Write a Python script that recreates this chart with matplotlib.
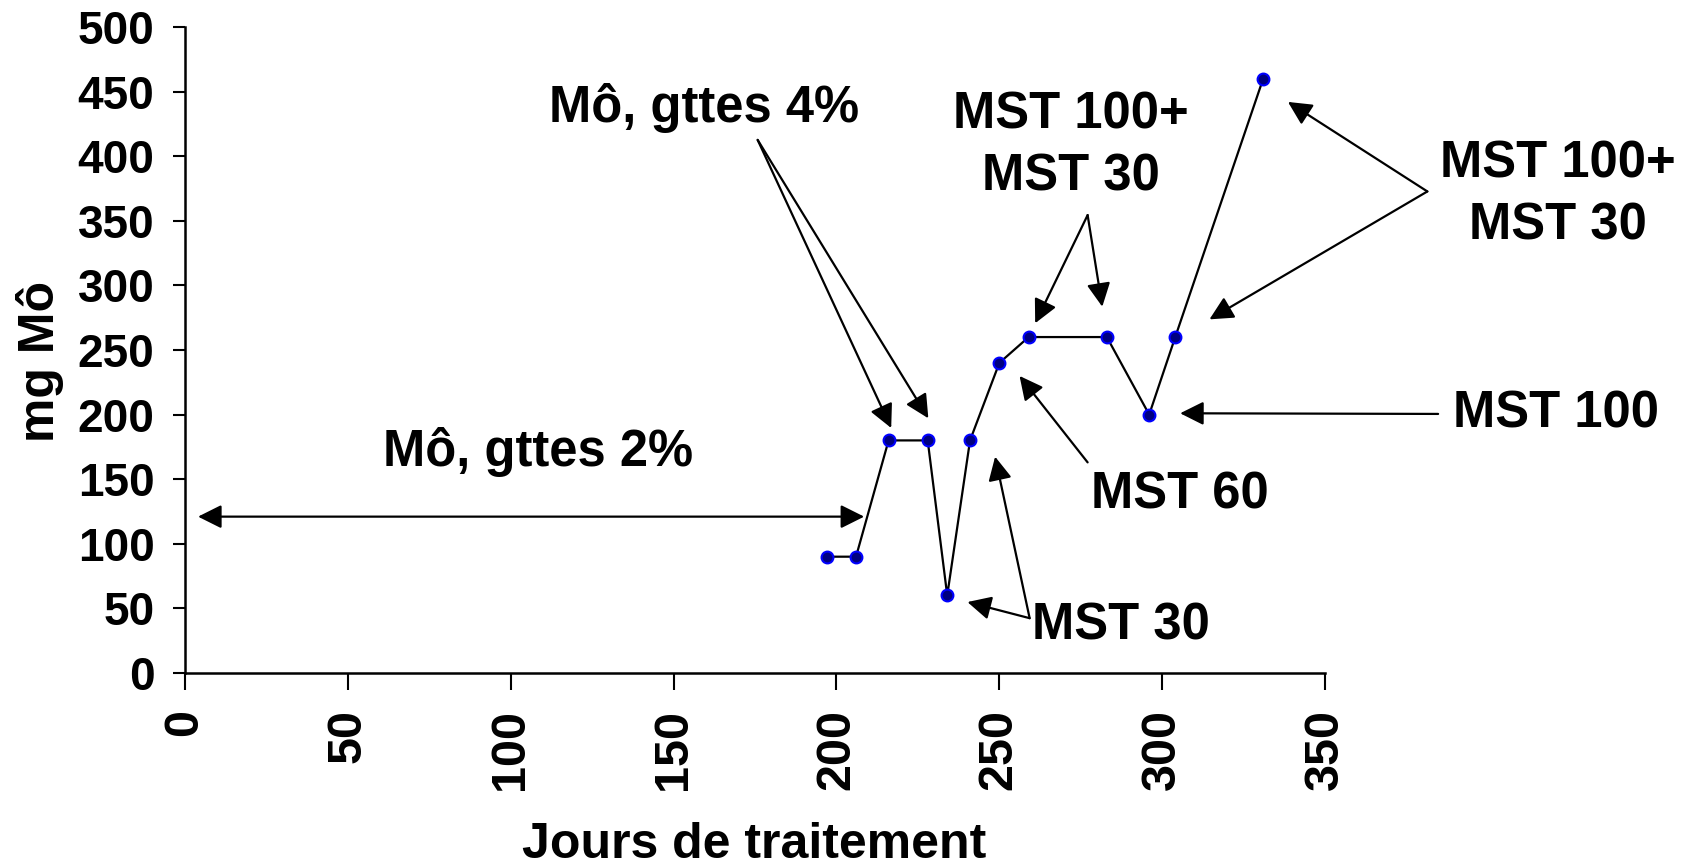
import matplotlib
matplotlib.use("Agg")
import matplotlib.pyplot as plt
import numpy as np

plt.rcParams['font.family'] = ['Liberation Sans', 'DejaVu Sans']
plt.rcParams['font.weight'] = 'bold'

# -------------------------------
# data
# -------------------------------
days = [197, 206, 216, 228, 234, 241, 250, 259, 283, 296, 304, 331]
dose_mg = [90, 90, 180, 180, 60, 180, 240, 260, 260, 200, 260, 460]

x_ticks = [0, 50, 100, 150, 200, 250, 300, 350]
y_ticks = [0, 50, 100, 150, 200, 250, 300, 350, 400, 450, 500]

# label text, label position, arrow start, arrow tips
labels = [
    ("Mô, gttes 4%", (159.5, 437), (175.8, 412.6), [(216.8, 189.6), (228.2, 197.1)]),
    ("MST 100+\nMST 30", (272, 408), (277.1, 354.4), [(261.0, 270.7), (281.6, 283.5)]),
    ("MST 100+\nMST 30", (421.6, 370), (381.4, 372.7), [(338.6, 442.0), (314.5, 273.7)]),
    ("MST 100", (421, 200.5), (384.7, 200.5), [(305.5, 201.0)]),
    ("MST 60", (305.3, 138), (277.1, 163.0), [(256.2, 229.9)]),
    ("MST 30", (287.2, 36.6), (259.3, 42.4), [(240.2, 54.9), (248.7, 167.4)]),
]
span_label = ("Mô, gttes 2%", (108.5, 171))
span_ends = [4, 208.5]
span_y = 121

fig = plt.figure(figsize=(16.85, 8.68), dpi=100)
ax = fig.add_axes([0.1098, 0.2247, 0.6766, 0.7442])

ax.plot(days, dose_mg, color='black', lw=1.6, marker='o', markersize=8.5,
        markerfacecolor='#000080', markeredgecolor='#0000ff', markeredgewidth=1.5,
        zorder=3)

ax.set_xlim(0, 350)
ax.set_ylim(0, 500)
ax.set_xticks(x_ticks)
ax.set_yticks(y_ticks)
ax.set_xticklabels([str(t) for t in x_ticks], rotation=90, fontsize=35,
                   fontweight='bold')
ax.set_yticklabels([str(t) for t in y_ticks], fontsize=33, fontweight='bold')
ax.tick_params(axis='x', direction='out', length=12, width=1.5, pad=14)
ax.tick_params(axis='y', direction='out', length=9, width=1.5, pad=13)

for side in ['top', 'right']:
    ax.spines[side].set_visible(False)
for side in ['left', 'bottom']:
    ax.spines[side].set_linewidth(1.8)

arrow = dict(arrowstyle='-|>', mutation_scale=36, lw=1.6, color='black',
             shrinkA=0, shrinkB=0)

# -------------------------------
# annotations
# -------------------------------
for text, pos, start, tips in labels:
    ax.text(pos[0], pos[1], text, fontsize=36.5, fontweight='bold',
            ha='center', va='center', linespacing=1.36, clip_on=False)
    for tip in tips:
        ax.annotate("", xy=tip, xytext=start, arrowprops=arrow,
                    annotation_clip=False)

ax.text(span_label[1][0], span_label[1][1], span_label[0], fontsize=36.5,
        fontweight='bold', ha='center', va='center')
ax.annotate("", xy=(span_ends[1], span_y), xytext=(span_ends[0], span_y),
            arrowprops=dict(arrow, arrowstyle='<|-|>'), annotation_clip=False)

# axis titles
fig.text(754 / 1685, 1 - 858 / 868, "Jours de traitement", fontsize=36,
         fontweight='bold', ha='center', va='baseline')
fig.text(40 / 1685, 1 - 361 / 868, "mg Mô", fontsize=36, fontweight='bold',
         ha='center', va='center', rotation=90)

fig.savefig("out.png", dpi=100)
